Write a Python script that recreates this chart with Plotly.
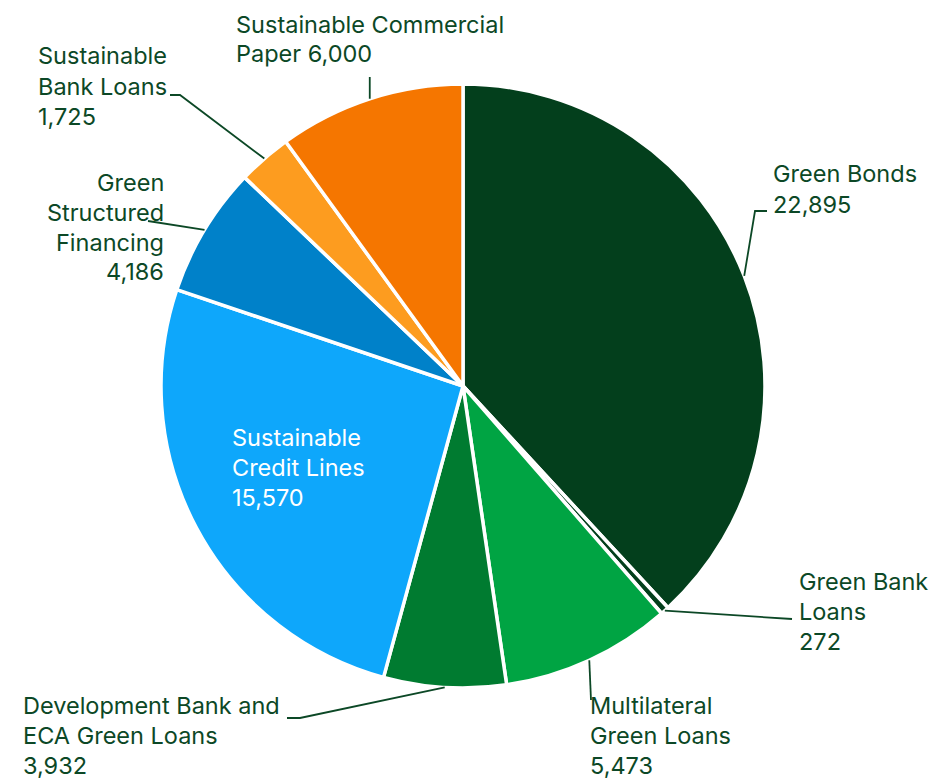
import math
import plotly.graph_objects as go

# ---- data ----
categories = ["Green Bonds", "Green Bank Loans", "Multilateral Green Loans",
              "Development Bank and ECA Green Loans", "Sustainable Credit Lines",
              "Green Structured Financing", "Sustainable Bank Loans",
              "Sustainable Commercial Paper"]
values = [22895, 272, 5473, 3932, 15570, 4186, 1725, 6000]
label_lines = [
    ["Green Bonds", "{v}"],
    ["Green Bank", "Loans", "{v}"],
    ["Multilateral", "Green Loans", "{v}"],
    ["Development Bank and", "ECA Green Loans", "{v}"],
    ["Sustainable", "Credit Lines", "{v}"],
    ["Green", "Structured", "Financing", "{v}"],
    ["Sustainable", "Bank Loans", "{v}"],
    ["Sustainable Commercial", "Paper {v}"],
]
colors = ["#033f1c", "#033f1c", "#00a443", "#007b30", "#0ea7fb",
          "#0081c9", "#fd9c1f", "#f57600"]

# ---- layout (pixels) ----
W, H = 931, 784
CX, CY, R = 463, 386, 302
TXT = "#0c4826"
LINE_H = 30

def px(x):
    return x / W

def py(y):
    return 1 - y / H

# label placement: (x, first-line center y, anchor, font colour)
label_pos = [
    (771, 174, "left", TXT),
    (797, 581, "left", TXT),
    (588, 705, "left", TXT),
    (21, 705, "left", TXT),
    (230, 437, "left", "white"),
    (166, 182, "right", TXT),
    (36, 56, "left", TXT),
    (234, 24, "left", TXT),
]
# leader line waypoints after the point on the slice edge (None = no leader)
leader_way = [
    [(755, 211), (767, 211)],
    [(792, 619)],
    [(591, 700)],
    [(300, 718), (287, 718)],
    None,
    [(148, 221)],
    [(180, 95), (170, 95)],
    "vertical",
]

fig = go.Figure(go.Pie(
    labels=categories, values=values, sort=False, direction="clockwise",
    rotation=0, marker=dict(colors=colors, line=dict(color="white", width=3.5)),
    textinfo="none", hoverinfo="label+value", showlegend=False,
    domain=dict(x=[px(CX - R), px(CX + R)], y=[py(CY + R), py(CY - R)]),
))

total = sum(values)
cum = 0
shapes = []
annotations = []
for i, v in enumerate(values):
    mid = (cum + v / 2) / total * 2 * math.pi
    cum += v
    ex = CX + R * math.sin(mid)
    ey = CY - R * math.cos(mid)
    way = leader_way[i]
    if way == "vertical":
        way = [(ex, 77)]
    if way:
        pts = [(ex, ey)] + way
        path = "M " + " L ".join(f"{px(a):.5f},{py(b):.5f}" for a, b in pts)
        shapes.append(dict(type="path", path=path, xref="paper", yref="paper",
                           line=dict(color=TXT, width=1.8)))
    x0, y0, anchor, col = label_pos[i]
    for k, line in enumerate(label_lines[i]):
        annotations.append(dict(
            text=line.format(v=f"{v:,}"), x=px(x0), y=py(y0 + k * LINE_H),
            xref="paper", yref="paper", xanchor=anchor, yanchor="middle",
            showarrow=False, font=dict(family="Inter", size=23.5, color=col)))

fig.update_layout(width=W, height=H, margin=dict(l=0, r=0, t=0, b=0),
                  paper_bgcolor="white", plot_bgcolor="white",
                  shapes=shapes, annotations=annotations)
fig.write_html("out.html", config={"displayModeBar": False},
               post_script="document.body.style.margin='0';document.body.style.overflow='hidden';")
